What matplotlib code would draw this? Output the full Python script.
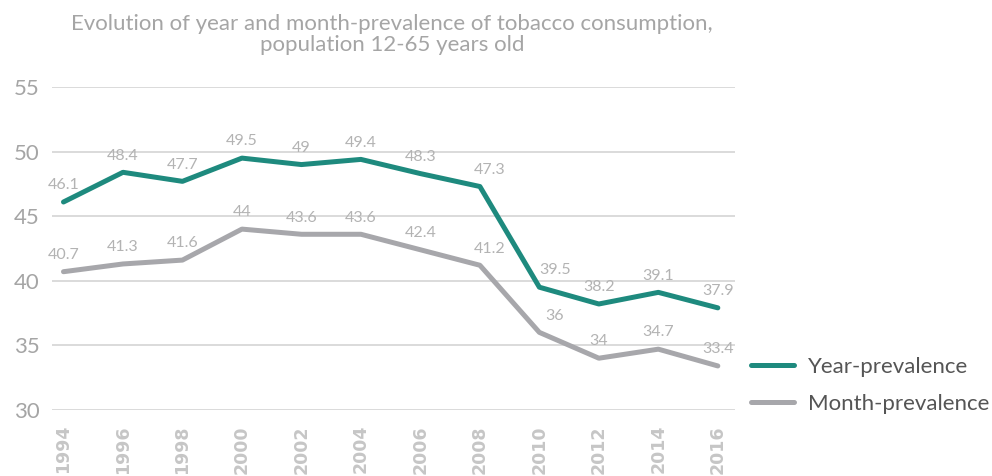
import matplotlib.pyplot as plt
import numpy as np

years = ['1994', '1996', '1998', '2000', '2002', '2004', '2006', '2008',
         '2010', '2012', '2014', '2016']
year_prev = [46.1, 48.4, 47.7, 49.5, 49.0, 49.4, 48.3, 47.3, 39.5, 38.2, 39.1, 37.9]
month_prev = [40.7, 41.3, 41.6, 44.0, 43.6, 43.6, 42.4, 41.2, 36.0, 34.0, 34.7, 33.4]

TEAL = '#1e8a7e'
GREY = '#a7a7ab'
TXT = '#a5a5a5'

plt.rcParams['font.family'] = ['Lato', 'DejaVu Sans']

fig = plt.figure(figsize=(9.92, 4.76), dpi=100)
ax = fig.add_axes([0.052, 0.139, 0.689, 0.678])

x = np.arange(len(years))
ax.plot(x, year_prev, color=TEAL, lw=3.6, label='Year-prevalence', solid_capstyle='round')
ax.plot(x, month_prev, color=GREY, lw=3.6, label='Month-prevalence', solid_capstyle='round')

# value labels above each point; nudge the ones on the steep drop to the right
dx = {7: 7, 8: 11}
for series in (year_prev, month_prev):
    for xi, v in zip(x, series):
        ax.annotate('{:g}'.format(v), (xi, v), xytext=(dx.get(xi, 0), 7),
                    textcoords='offset points', ha='center', va='bottom',
                    fontsize=11.5, color='#b3b3b3')

ax.set_ylim(30, 55)
ax.set_yticks([30, 35, 40, 45, 50, 55])
ax.set_xlim(-0.2, 11.29)
ax.set_xticks(x)
ax.set_xticklabels(years, rotation=90, fontsize=12.5, fontweight='bold', color='#c6c6c6',
                   va='top', family='DejaVu Sans')
ax.tick_params(axis='x', length=0, pad=11)
ax.tick_params(axis='y', length=0, pad=8.5, labelsize=16, labelcolor=TXT)

ax.grid(axis='y', color='#d4d4d4', lw=1.2)
ax.set_axisbelow(True)
for s in ax.spines.values():
    s.set_visible(False)

fig.text(0.395, 0.97, 'Evolution of year and month-prevalence of tobacco consumption,\npopulation 12-65 years old',
         ha='center', va='top', fontsize=16, color=TXT, linespacing=1.05)

fig.legend(loc='upper left', bbox_to_anchor=(0.737, 0.292), frameon=False, fontsize=16,
           labelcolor='#555555', handlelength=1.95, handletextpad=0.6, labelspacing=0.75)

fig.savefig('out.png', dpi=100)
